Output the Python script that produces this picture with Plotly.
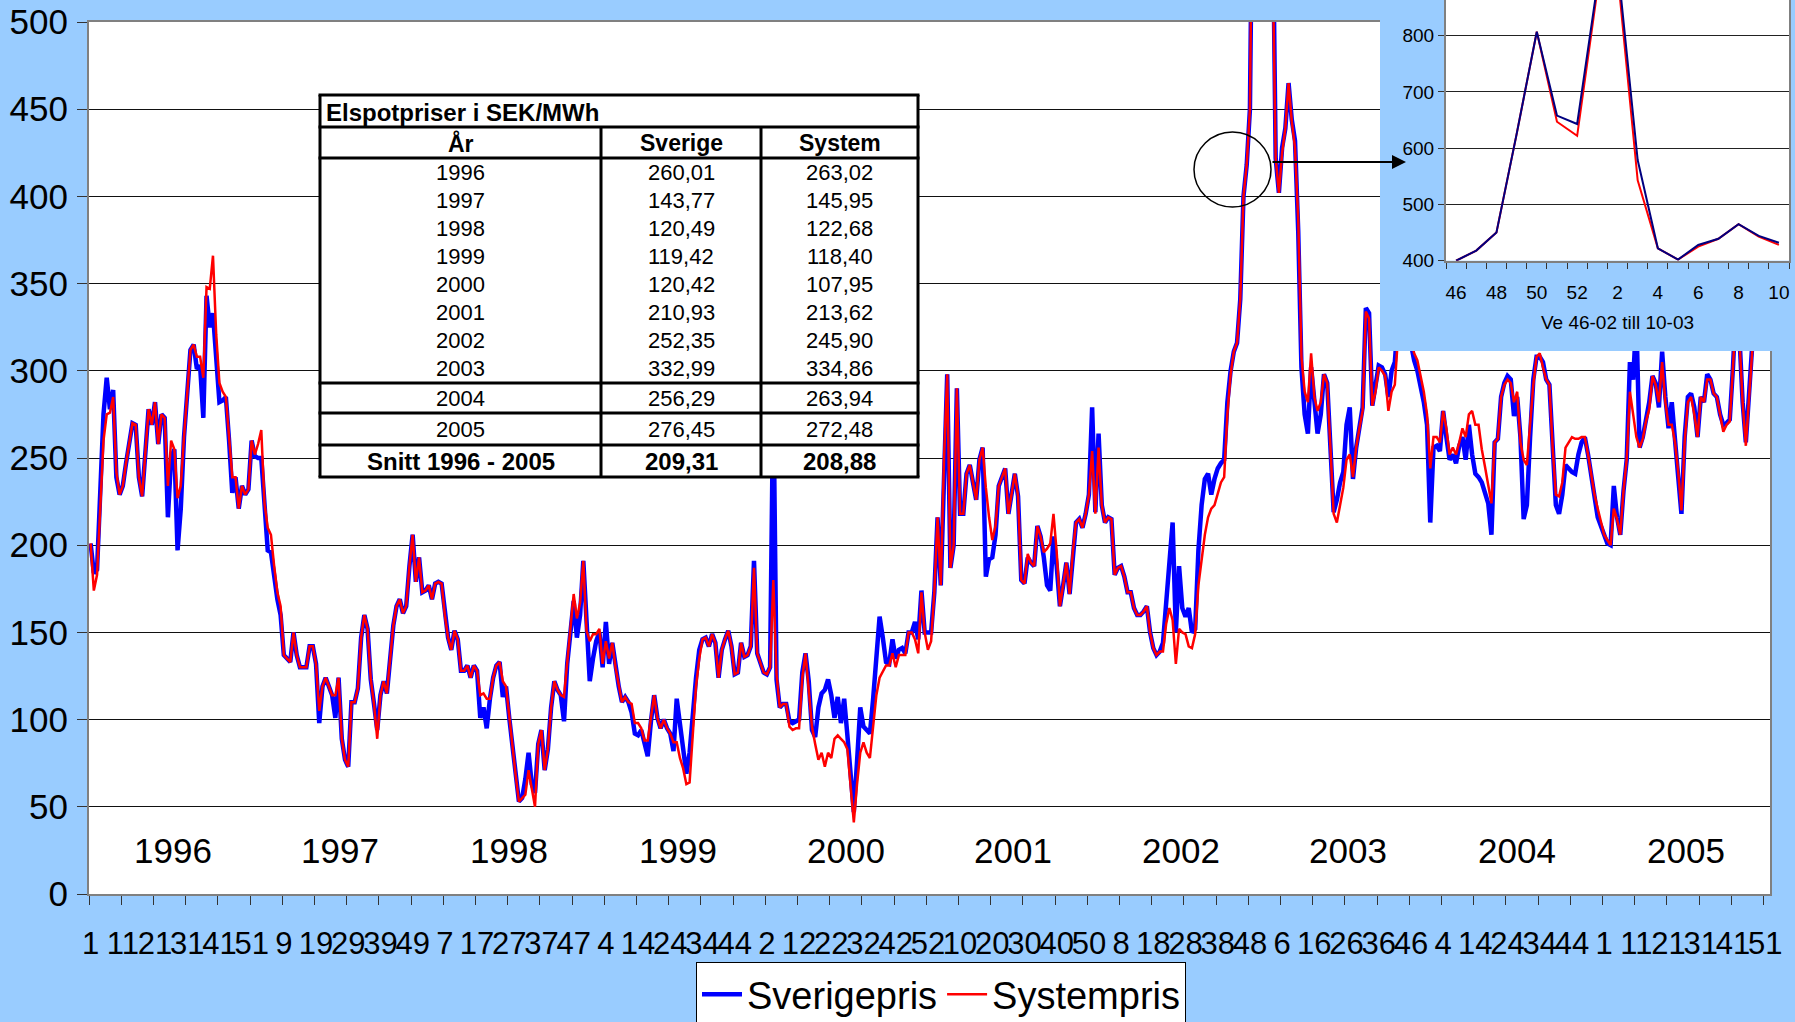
import plotly.graph_objects as go

W, H = 1795, 1022
BG = "#99CCFF"
NARROW = "Liberation Sans Narrow, Arial Narrow, Liberation Sans, Arial, sans-serif"
ARIAL = "Liberation Sans, Arial, sans-serif"

# ---------------- data ----------------
years = [1996, 1997, 1998, 1999, 2000, 2001, 2002, 2003, 2004, 2005]
weeks_per_year = [52, 52, 53, 52, 52, 52, 52, 52, 53, 52]

sverige_1996 = [201, 184, 186, 232, 275, 296, 278, 289, 239, 229, 234, 247, 260, 270, 269, 239, 228, 255, 278, 269,
                282, 258, 275, 273, 216, 250, 255, 197, 221, 262, 290, 312, 315, 301, 303, 273, 343, 325, 333, 311,
                282, 283, 285, 260, 230, 239, 221, 234, 229, 232, 260, 251]
system_1996 = [201, 174, 183, 219, 260, 275, 276, 285, 242, 229, 234, 247, 260, 270, 269, 239, 228, 255, 278, 269,
               282, 258, 275, 273, 234, 260, 255, 227, 234, 262, 290, 312, 315, 308, 308, 296, 348, 347, 366, 321,
               293, 288, 285, 260, 239, 239, 221, 234, 229, 232, 260, 252]

sverige_1997 = [250, 250, 219, 197, 196, 181, 169, 160, 137, 135, 133, 150, 137, 130, 130, 130, 142, 142, 132, 98,
                119, 124, 119, 114, 101, 124, 89, 77, 73, 110, 110, 118, 147, 160, 152, 123, 109, 94, 114, 122,
                115, 135, 154, 165, 169, 161, 165, 188, 206, 179, 193, 173]
system_1997 = [258, 266, 224, 210, 206, 188, 173, 165, 137, 135, 133, 150, 137, 130, 130, 130, 142, 142, 132, 105,
               119, 124, 119, 114, 114, 124, 89, 77, 73, 110, 110, 118, 147, 160, 152, 123, 109, 89, 114, 122,
               115, 135, 154, 165, 169, 161, 165, 188, 206, 179, 193, 173]

sverige_1998 = [174, 177, 169, 178, 179, 178, 160, 147, 140, 151, 146, 128, 128, 131, 124, 131, 128, 101, 107, 95,
                112, 124, 131, 133, 113, 119, 101, 83, 68, 53, 55, 66, 81, 63, 58, 86, 94, 71, 83, 107,
                122, 117, 114, 99, 132, 150, 168, 147, 160, 191, 152, 122, 135]
system_1998 = [174, 177, 169, 178, 179, 178, 160, 147, 140, 151, 146, 128, 128, 131, 124, 131, 128, 114, 115, 112,
               112, 124, 131, 133, 122, 119, 101, 83, 68, 53, 55, 57, 71, 60, 50, 86, 94, 71, 83, 107,
               122, 117, 114, 113, 132, 150, 172, 158, 167, 191, 151, 145, 149]

sverige_1999 = [145, 150, 130, 156, 132, 144, 130, 119, 110, 113, 110, 104, 92, 91, 94, 86, 79, 99, 114, 101,
                95, 100, 95, 92, 82, 112, 96, 81, 69, 81, 107, 124, 140, 146, 147, 142, 149, 144, 124, 140,
                146, 151, 142, 126, 127, 144, 136, 137, 142, 191, 138, 132]
system_1999 = [149, 152, 132, 145, 135, 144, 130, 119, 110, 113, 110, 109, 98, 98, 95, 88, 88, 101, 114, 101,
               95, 100, 95, 92, 87, 87, 78, 72, 63, 64, 91, 119, 135, 146, 147, 142, 149, 144, 124, 140,
               146, 151, 142, 126, 127, 144, 136, 137, 142, 187, 138, 132]

sverige_2000 = [127, 126, 130, 290, 123, 107, 109, 109, 99, 98, 99, 100, 127, 138, 122, 94, 90, 107, 115, 117,
                123, 114, 101, 113, 98, 112, 91, 68, 47, 76, 107, 96, 94, 92, 112, 132, 159, 147, 133, 132,
                146, 135, 140, 141, 138, 150, 150, 156, 146, 174, 150, 150]
system_2000 = [127, 126, 130, 180, 126, 107, 109, 109, 96, 94, 95, 95, 124, 138, 117, 96, 86, 77, 81, 73,
               81, 78, 89, 91, 89, 87, 83, 63, 41, 63, 81, 87, 81, 78, 96, 114, 124, 128, 131, 131,
               138, 130, 137, 137, 137, 150, 150, 146, 138, 173, 150, 140]

sverige_2001 = [150, 173, 216, 177, 249, 298, 187, 200, 290, 218, 218, 241, 246, 236, 226, 249, 256, 182, 192, 193,
                206, 234, 239, 244, 218, 231, 241, 228, 180, 178, 193, 190, 188, 211, 205, 193, 177, 174, 205, 188,
                165, 177, 190, 172, 196, 213, 215, 210, 218, 229, 279, 219]
system_2001 = [145, 173, 216, 177, 249, 298, 187, 200, 290, 218, 218, 241, 246, 236, 226, 249, 256, 233, 216, 203,
               211, 234, 239, 244, 218, 231, 241, 228, 180, 178, 195, 190, 188, 211, 205, 196, 198, 201, 218, 196,
               165, 177, 190, 172, 196, 213, 215, 210, 218, 229, 254, 218]

sverige_2002 = [264, 223, 213, 216, 215, 183, 187, 188, 182, 173, 173, 164, 160, 160, 162, 165, 150, 141, 137, 139,
                144, 167, 197, 213, 150, 188, 164, 159, 164, 150, 152, 197, 223, 238, 241, 229, 238, 244, 247, 249,
                282, 300, 311, 316, 341, 400, 418, 450, 625, 807, 658, 643]
system_2002 = [256, 223, 213, 216, 215, 183, 187, 188, 182, 173, 173, 164, 160, 160, 162, 165, 150, 141, 137, 139,
               139, 155, 164, 157, 132, 152, 150, 149, 142, 141, 149, 177, 192, 206, 216, 221, 223, 229, 236, 239,
               275, 298, 311, 316, 341, 400, 418, 450, 625, 807, 647, 622]

sverige_2003 = [890, 930, 579, 422, 402, 428, 439, 465, 444, 432, 380, 302, 275, 264, 302, 279, 264, 275, 298, 293,
                256, 219, 226, 236, 242, 269, 279, 238, 256, 267, 279, 336, 333, 280, 290, 303, 302, 298, 285, 300,
                305, 330, 340, 335, 325, 315, 306, 300, 292, 282, 269, 213]
system_2003 = [880, 912, 543, 422, 402, 425, 439, 465, 443, 428, 387, 308, 288, 282, 310, 285, 277, 282, 298, 293,
               256, 218, 213, 223, 233, 249, 252, 239, 256, 267, 277, 334, 330, 280, 288, 302, 300, 297, 277, 288,
               292, 320, 335, 335, 330, 318, 310, 306, 297, 288, 275, 244]

sverige_2004 = [256, 257, 254, 277, 262, 249, 252, 247, 257, 262, 249, 269, 252, 241, 239, 236, 230, 224, 206, 259,
                261, 285, 293, 297, 295, 274, 285, 262, 215, 223, 262, 295, 308, 308, 305, 295, 292, 262, 223, 218,
                229, 246, 244, 242, 241, 252, 259, 262, 252, 239, 226, 216, 211]
system_2004 = [262, 262, 259, 277, 267, 252, 256, 252, 259, 267, 262, 275, 277, 269, 269, 255, 245, 235, 224, 259,
               261, 285, 292, 295, 293, 282, 288, 259, 249, 246, 269, 292, 308, 310, 302, 295, 292, 256, 229, 228,
               236, 256, 259, 262, 261, 261, 262, 262, 252, 239, 229, 221, 213]

sverige_2005 = [205, 201, 200, 234, 216, 206, 231, 249, 305, 295, 330, 256, 262, 272, 282, 297, 293, 279, 311, 285,
                267, 282, 256, 239, 218, 262, 285, 287, 279, 262, 285, 282, 298, 295, 287, 285, 275, 269, 270, 272,
                302, 340, 320, 282, 259, 288, 315, 330, 340, 345, 350, 355]
system_2005 = [206, 203, 200, 221, 215, 206, 231, 249, 288, 275, 262, 256, 261, 271, 278, 297, 292, 282, 305, 282,
               269, 269, 259, 242, 220, 259, 282, 285, 275, 262, 285, 282, 295, 295, 287, 285, 274, 265, 269, 271,
               302, 335, 318, 282, 257, 288, 312, 328, 338, 343, 348, 352]

sverige = (sverige_1996 + sverige_1997 + sverige_1998 + sverige_1999 + sverige_2000 +
           sverige_2001 + sverige_2002 + sverige_2003 + sverige_2004 + sverige_2005)
system = (system_1996 + system_1997 + system_1998 + system_1999 + system_2000 +
          system_2001 + system_2002 + system_2003 + system_2004 + system_2005)

# table values
table_years = ["1996", "1997", "1998", "1999", "2000", "2001", "2002", "2003", "2004", "2005"]
table_sverige = [260.01, 143.77, 120.49, 119.42, 120.42, 210.93, 252.35, 332.99, 256.29, 276.45]
table_system = [263.02, 145.95, 122.68, 118.40, 107.95, 213.62, 245.90, 334.86, 263.94, 272.48]
snitt_label = "Snitt 1996 - 2005"
snitt_sverige = 209.31
snitt_system = 208.88
table_title = "Elspotpriser i SEK/MWh"
table_header = ["År", "Sverige", "System"]

inset_title = "Ve 46-02 till 10-03"

# ---------------- derived ----------------
week_numbers = [w for n in weeks_per_year for w in range(1, n + 1)]
n_total = len(week_numbers)
x_index = list(range(n_total))
tick_idx = x_index[::10]
tick_txt = [str(week_numbers[i]) for i in tick_idx]

year_start = [sum(weeks_per_year[:k]) for k in range(len(years))]
year_center = [year_start[k] + weeks_per_year[k] / 2 - 0.5 for k in range(len(years))]

inset_start = year_start[years.index(2002)] + 45      # week 46 of 2002
inset_end = year_start[years.index(2003)] + 10        # through week 10 of 2003
ins_idx = list(range(inset_end - inset_start))
ins_sve = sverige[inset_start:inset_end]
ins_sys = system[inset_start:inset_end]
ins_weeks = week_numbers[inset_start:inset_end]


def fx(px):
    return px / W


def fy(py):
    return 1 - py / H


def fmt(v):
    return f"{v:.2f}".replace(".", ",")


fig = go.Figure()

# main chart
fig.add_trace(go.Scatter(x=x_index, y=sverige, mode="lines", name="Sverigepris",
                         line=dict(color="#0000FF", width=4.5)))
fig.add_trace(go.Scatter(x=x_index, y=system, mode="lines", name="Systempris",
                         line=dict(color="#FF0000", width=2.5)))
# background holder subplot for the inset box
fig.add_trace(go.Scatter(x=[], y=[], xaxis="x2", yaxis="y2", showlegend=False, hoverinfo="skip"))
# inset chart
fig.add_trace(go.Scatter(x=ins_idx, y=ins_sys, mode="lines", xaxis="x3", yaxis="y3", showlegend=False,
                         line=dict(color="#FF0000", width=2)))
fig.add_trace(go.Scatter(x=ins_idx, y=ins_sve, mode="lines", xaxis="x3", yaxis="y3", showlegend=False,
                         line=dict(color="#000080", width=2)))

shapes = []
# inset blue box (drawn in the x2y2 subplot layer, above the main chart)
shapes.append(dict(type="rect", xref="x2", yref="y2", x0=0, x1=1, y0=0, y1=1,
                   fillcolor=BG, line=dict(width=0), layer="below"))

# circle + table
shapes.append(dict(type="circle", xref="paper", yref="paper", x0=fx(1194), x1=fx(1271),
                   y0=fy(207), y1=fy(132), line=dict(color="black", width=1.5), layer="above"))

TX0, TX1, TC1, TC2 = 320, 918, 601, 761
rows_y = [95, 127, 158, 383, 413, 445, 477]
shapes.append(dict(type="rect", xref="paper", yref="paper", x0=fx(TX0), x1=fx(TX1), y0=fy(477), y1=fy(95),
                   fillcolor="white", line=dict(width=0), layer="above"))
for yy in rows_y:
    shapes.append(dict(type="line", xref="paper", yref="paper", x0=fx(TX0 - 1.5), x1=fx(TX1 + 1.5), y0=fy(yy), y1=fy(yy),
                       line=dict(color="black", width=3), layer="above"))
for xx in (TX0, TX1):
    shapes.append(dict(type="line", xref="paper", yref="paper", x0=fx(xx), x1=fx(xx), y0=fy(95), y1=fy(477),
                       line=dict(color="black", width=3), layer="above"))
for xx in (TC1, TC2):
    shapes.append(dict(type="line", xref="paper", yref="paper", x0=fx(xx), x1=fx(xx), y0=fy(127), y1=fy(477),
                       line=dict(color="black", width=3), layer="above"))

annotations = []
# year labels
for k, yr in enumerate(years):
    annotations.append(dict(x=year_center[k], y=25, xref="x", yref="y", text=str(yr), showarrow=False,
                            font=dict(family=NARROW, size=35, color="black")))

# arrow
annotations.append(dict(x=fx(1406), y=fy(162), xref="paper", yref="paper", text="", showarrow=True,
                        ax=-135, ay=0, arrowhead=2, arrowsize=1.4, arrowwidth=2, arrowcolor="black"))

# table text
col_c = [(TX0 + TC1) / 2, (TC1 + TC2) / 2, (TC2 + TX1) / 2]


def cell(text, cx, cy, size=22, bold=False, anchor="center"):
    annotations.append(dict(x=fx(cx), y=fy(cy), xref="paper", yref="paper", text=(f"<b>{text}</b>" if bold else text),
                            showarrow=False, xanchor=anchor, yanchor="middle",
                            font=dict(family=ARIAL, size=size, color="black")))


cell(table_title, TX0 + 4, 112, size=24, bold=True, anchor="left")
for j, h in enumerate(table_header):
    cell(h, col_c[j], 143, size=23, bold=True)
row_centers = [158 + (383 - 158) / 8 * (k + 0.5) for k in range(8)] + [398.5, 429.5]
for k in range(len(table_years)):
    cell(table_years[k], col_c[0], row_centers[k])
    cell(fmt(table_sverige[k]), col_c[1], row_centers[k])
    cell(fmt(table_system[k]), col_c[2], row_centers[k])
cell(snitt_label, col_c[0], 461, size=24, bold=True)
cell(fmt(snitt_sverige), col_c[1], 461, size=24, bold=True)
cell(fmt(snitt_system), col_c[2], 461, size=24, bold=True)

AXC = "#808080"
fig.update_layout(
    width=W, height=H, autosize=False,
    margin=dict(l=0, r=0, t=0, b=0, pad=0, autoexpand=False),
    paper_bgcolor=BG, plot_bgcolor="white",
    showlegend=True,
    legend=dict(orientation="h", xref="container", yref="container", x=fx(696), y=fy(962),
                xanchor="left", yanchor="top",
                bgcolor="white", bordercolor="black", borderwidth=1,
                font=dict(family=NARROW, size=38, color="black"), itemwidth=40),
    xaxis=dict(domain=[fx(89), fx(1770)], range=[-0.5, n_total - 0.5], anchor="y", automargin=False,
               tickmode="array", tickvals=tick_idx, ticktext=tick_txt, tickangle=0,
               ticks="outside", ticklen=9, tickcolor="rgba(0,0,0,0)", ticklabelstandoff=12,
               minor=dict(tickmode="array", tickvals=[i - 0.5 for i in tick_idx], ticks="outside",
                          ticklen=9, tickwidth=1, tickcolor="#333333", showgrid=False),
               tickfont=dict(family=NARROW, size=31, color="black"),
               showgrid=False, zeroline=False, showline=True, linecolor=AXC, linewidth=2, mirror=True),
    yaxis=dict(domain=[fy(894), fy(22)], range=[0, 500], anchor="x", dtick=50, tick0=0, automargin=False,
               ticks="outside", ticklen=10, tickcolor="#333333", ticklabelstandoff=2,
               tickfont=dict(family=NARROW, size=35, color="black"),
               showgrid=True, gridcolor="#111111", gridwidth=1, zeroline=False,
               showline=True, linecolor=AXC, linewidth=2, mirror=True),
    xaxis2=dict(domain=[fx(1380), 1.0], range=[0, 1], anchor="y2", visible=False, automargin=False),
    yaxis2=dict(domain=[fy(351), 1.0], range=[0, 1], anchor="x2", visible=False, automargin=False),
    xaxis3=dict(domain=[fx(1446), fx(1789)], range=[-0.5, len(ins_idx) - 0.5], anchor="y3", automargin=False,
                tickmode="array", tickvals=ins_idx[::2], ticktext=[str(w) for w in ins_weeks[::2]], tickangle=0,
                ticks="outside", ticklen=6, tickcolor="rgba(0,0,0,0)", ticklabelstandoff=7,
                minor=dict(tickmode="array", tickvals=[i - 0.5 for i in range(len(ins_idx) + 1)],
                           ticks="outside", ticklen=6, tickwidth=1, tickcolor="#333333", showgrid=False),
                tickfont=dict(family=ARIAL, size=19, color="black"),
                title=dict(text=inset_title, font=dict(family=ARIAL, size=19, color="black"), standoff=14),
                showgrid=False, zeroline=False, showline=True, linecolor=AXC, linewidth=2),
    yaxis3=dict(domain=[fy(260.7), 1.0], range=[400, 400 + 260.7 / 0.5625], anchor="x3", automargin=False,
                tickmode="array", tickvals=[400, 500, 600, 700, 800],
                ticks="outside", ticklen=6, tickcolor="#333333",
                tickfont=dict(family=ARIAL, size=19, color="black"),
                showgrid=True, gridcolor="#222222", gridwidth=1, zeroline=False,
                showline=True, linecolor=AXC, linewidth=2, mirror=True),
    shapes=shapes,
    annotations=annotations,
)

fig.write_html("out.html", config={"displayModeBar": False},
               post_script="document.body.style.margin='0px';document.body.style.padding='0px';")
